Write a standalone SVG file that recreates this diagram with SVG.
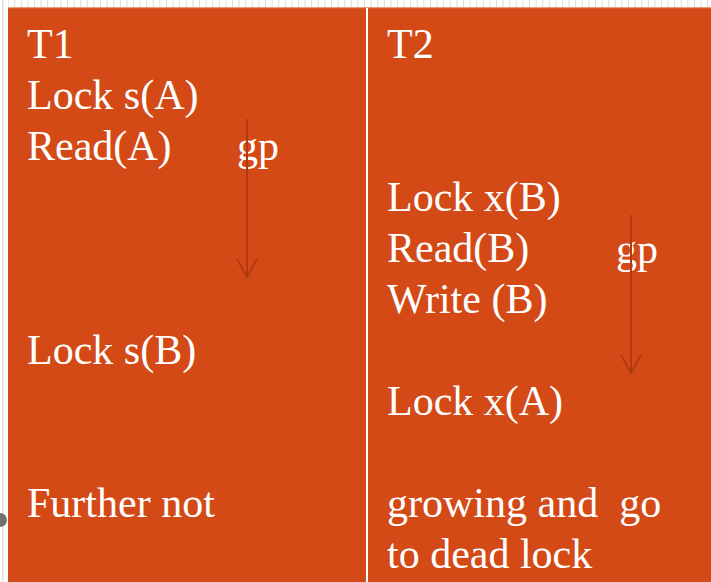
<svg xmlns="http://www.w3.org/2000/svg" width="711" height="582" viewBox="0 0 711 582">
<defs>
<pattern id="ticks" x="1" y="0" width="6.6" height="8" patternUnits="userSpaceOnUse">
<rect x="0" y="0" width="1" height="7" fill="#dcdcdc"/>
</pattern>
</defs>
<style>
.t{font-family:"Liberation Serif","Times New Roman",serif;font-size:42px;fill:#ffffff;white-space:pre}
.arr{stroke:#B33A10;stroke-width:2;fill:none}
</style>
<rect x="0" y="0" width="711" height="582" fill="#ffffff"/>
<rect x="8" y="0" width="703" height="7" fill="url(#ticks)"/>
<rect x="2" y="0" width="1.5" height="582" fill="#e0e0e0"/>
<path d="M0,513 A7,7 0 0 1 0,527 Z" fill="#707070"/>
<g id="background">
<rect x="8" y="7" width="703" height="575" fill="#D34A17"/>
<rect x="8" y="7" width="703" height="1.2" fill="#EC9A78"/>
<rect x="366" y="8" width="2" height="574" fill="#ffffff"/>
</g>
<g id="col-T1">
<text class="t" x="27" y="58">T1</text>
<text class="t" x="27" y="109">Lock s(A)</text>
<text class="t" x="27" y="160">Read(A)</text>
<text class="t" x="237" y="160">gp</text>
<text class="t" x="27" y="364">Lock s(B)</text>
<text class="t" x="27" y="517">Further not</text>
</g>
<g id="col-T2">
<text class="t" x="387" y="58">T2</text>
<text class="t" x="387" y="211">Lock x(B)</text>
<text class="t" x="387" y="262">Read(B)</text>
<text class="t" x="616" y="263">gp</text>
<text class="t" x="387" y="313">Write (B)</text>
<text class="t" x="387" y="415">Lock x(A)</text>
<text class="t" x="387" y="517" xml:space="preserve">growing and  go</text>
<text class="t" x="387" y="568">to dead lock</text>
</g>
<g id="connectors">
<line class="arr" x1="247" y1="119" x2="247" y2="277"/>
<polyline class="arr" points="237,259 247,277 257,259"/>
<line class="arr" x1="631" y1="215" x2="631" y2="373"/>
<polyline class="arr" points="621,355 631,373 641,355"/>
</g>
</svg>
